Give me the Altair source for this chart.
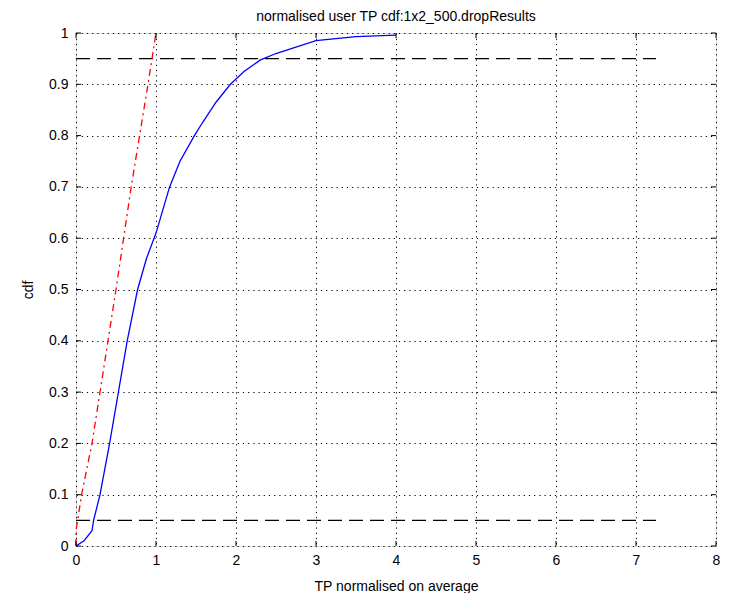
import altair as alt
import pandas as pd

# blue cdf curve
blue_x = [0.0, 0.1, 0.2, 0.22, 0.30, 0.42, 0.53, 0.64, 0.77, 0.88, 1.0, 1.17, 1.30, 1.48, 1.58, 1.75, 1.93, 2.10, 2.30, 2.50, 2.70, 3.0, 3.5, 4.0]
blue_y = [0.0, 0.01, 0.03, 0.05, 0.10, 0.20, 0.30, 0.40, 0.50, 0.56, 0.61, 0.70, 0.75, 0.80, 0.825, 0.865, 0.90, 0.925, 0.947, 0.96, 0.97, 0.985, 0.993, 0.996]

# red reference (dash-dot) curve
red_x = [0.0, 0.0, 0.07, 0.2, 0.3, 0.5, 0.69, 0.9, 1.0]
red_y = [0.0, 0.03, 0.1, 0.2, 0.3, 0.5, 0.7, 0.9, 1.0]

# dashed horizontal levels
level_y = [0.05, 0.95]
level_x0 = 0.0
level_x1 = 7.25

x_ticks = list(range(0, 9))
y_ticks = [i / 10 for i in range(0, 11)]

W, H = 640, 513
FONT = "Liberation Sans"

xs = alt.Scale(domain=[0, 8], nice=False)
ys = alt.Scale(domain=[0, 1], nice=False)

blue_df = pd.DataFrame({"x": blue_x, "y": blue_y, "o": range(len(blue_x))})
red_df = pd.DataFrame({"x": red_x, "y": red_y, "o": range(len(red_x))})
lev_df = pd.DataFrame({"y": level_y, "x0": [level_x0] * 2, "x1": [level_x1] * 2})
xt_df = pd.DataFrame({"t": x_ticks})
yt_df = pd.DataFrame({"t": y_ticks})

x_axis = alt.Axis(values=x_ticks, grid=True, gridDash=[1.2, 4], gridColor="#000000", gridOpacity=1,
                  ticks=False, domain=False, labelFontSize=14, labelFont=FONT, labelColor="#000",
                  labelPadding=7, labelFlush=False, format="d",
                  title="TP normalised on average", titleFont=FONT, titleFontSize=14,
                  titleFontWeight="normal", titleColor="#000", titlePadding=12)
y_axis = alt.Axis(values=y_ticks, grid=True, gridDash=[1.2, 4], gridColor="#000000", gridOpacity=1,
                  ticks=False, domain=False, labelFontSize=14, labelFont=FONT, labelColor="#000",
                  labelPadding=8, labelFlush=False, format="~g", title="cdf", titleFont=FONT, titleFontSize=14,
                  titleFontWeight="normal", titleColor="#000", titlePadding=13)

base_grid = alt.Chart(xt_df).mark_rule(opacity=0).encode(
    x=alt.X("t:Q", scale=xs, axis=x_axis),
)
base_grid_y = alt.Chart(yt_df).mark_rule(opacity=0).encode(
    y=alt.Y("t:Q", scale=ys, axis=y_axis),
)

blue = alt.Chart(blue_df).mark_line(color="#0000ff", strokeWidth=1.3).encode(
    x=alt.X("x:Q", scale=xs), y=alt.Y("y:Q", scale=ys), order="o:Q")
red = alt.Chart(red_df).mark_line(color="#ff0000", strokeWidth=1.3, strokeDash=[7, 4, 2, 4]).encode(
    x=alt.X("x:Q", scale=xs), y=alt.Y("y:Q", scale=ys), order="o:Q")
levels = alt.Chart(lev_df).mark_rule(color="#000000", strokeWidth=1.2, strokeDash=[14, 7]).encode(
    x=alt.X("x0:Q", scale=xs), x2="x1:Q", y=alt.Y("y:Q", scale=ys))

tick_len = 5
xt_bot = alt.Chart(xt_df).mark_rule(color="#000").encode(
    x=alt.X("t:Q", scale=xs), y=alt.value(H), y2=alt.value(H - tick_len))
xt_top = alt.Chart(xt_df).mark_rule(color="#000").encode(
    x=alt.X("t:Q", scale=xs), y=alt.value(0), y2=alt.value(tick_len))
yt_left = alt.Chart(yt_df).mark_rule(color="#000").encode(
    y=alt.Y("t:Q", scale=ys), x=alt.value(0), x2=alt.value(tick_len))
yt_right = alt.Chart(yt_df).mark_rule(color="#000").encode(
    y=alt.Y("t:Q", scale=ys), x=alt.value(W), x2=alt.value(W - tick_len))

chart = alt.layer(base_grid, base_grid_y, levels, red, blue, xt_bot, xt_top, yt_left, yt_right).properties(
    width=W, height=H,
    title=alt.Title("normalised user TP cdf:1x2_500.dropResults", font=FONT, fontSize=14,
                    fontWeight="normal", color="#000", offset=2),
    padding={"left": 13, "top": 2, "right": 0, "bottom": 0},
).configure_view(stroke="#000000", strokeWidth=1.2).configure(background="#ffffff")

chart.save("out.html", embed_options={"renderer": "svg", "actions": False})
